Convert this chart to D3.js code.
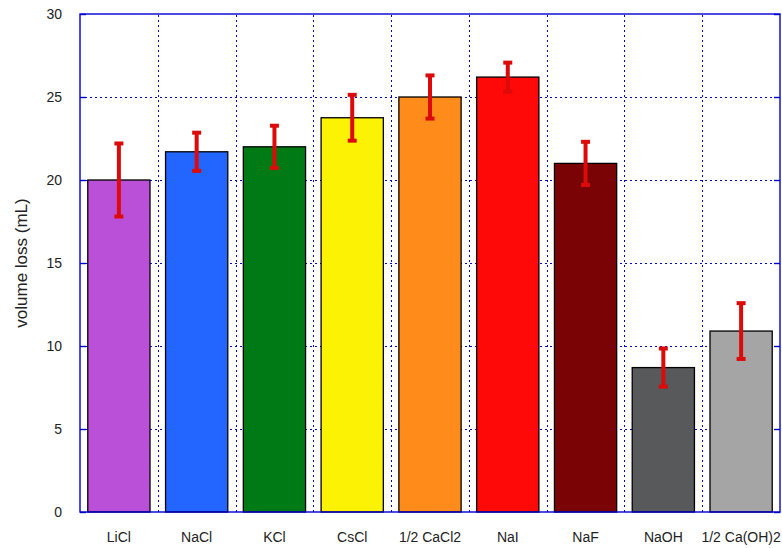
<!DOCTYPE html>
<html>
<head>
<meta charset="utf-8">
<script src="https://cdn.jsdelivr.net/npm/d3@7"></script>
<style>
  html, body { margin: 0; padding: 0; background: #fff; }
  svg { display: block; font-family: "Liberation Sans", Arial, sans-serif; }
</style>
</head>
<body>
<svg id="chart" width="782" height="548"></svg>
<script>
// Salts and their measured volume loss (mL) with uncertainty
const categories = ["LiCl", "NaCl", "KCl", "CsCl", "1/2 CaCl2", "NaI", "NaF", "NaOH", "1/2 Ca(OH)2"];
const values = [20.0, 21.7, 22.0, 23.75, 25.0, 26.2, 21.0, 8.7, 10.9];
const errors = [2.2, 1.15, 1.27, 1.38, 1.3, 0.87, 1.3, 1.15, 1.68];
const colors = ["#bb50d8", "#2266ff", "#007a14", "#fcf203", "#ff8c1a", "#ff0808", "#7a0305", "#58595b", "#a5a5a5"];
const yTicks = [0, 5, 10, 15, 20, 25, 30];

const svg = d3.select("#chart");
const margin = { left: 80, right: 2, top: 14, bottom: 36 };
const W = 782, H = 548;
const x0 = margin.left, x1 = W - margin.right, y0 = H - margin.bottom, y1 = margin.top;

const x = d3.scaleBand().domain(categories).range([x0, x1]).paddingInner(0.2).paddingOuter(0.1);
const xBand = d3.scaleBand().domain(categories).range([x0, x1]).padding(0);
const y = d3.scaleLinear().domain([0, 30]).range([y0, y1]);

const gridColor = "#0000d0";
const snap = v => Math.round(v) + 0.5;

// grid: horizontal lines at y ticks, vertical lines at category boundaries
const grid = svg.append("g").attr("shape-rendering", "crispEdges");
grid.selectAll("line.h").data(yTicks.slice(1, -1)).enter().append("line")
  .attr("x1", x0).attr("x2", x1)
  .attr("y1", d => snap(y(d))).attr("y2", d => snap(y(d)))
  .attr("stroke", gridColor).attr("stroke-width", 1.3).attr("stroke-dasharray", "2,3");
grid.selectAll("line.v").data(categories.slice(1)).enter().append("line")
  .attr("x1", d => snap(xBand(d))).attr("x2", d => snap(xBand(d)))
  .attr("y1", y0).attr("y2", y1)
  .attr("stroke", gridColor).attr("stroke-width", 1.3).attr("stroke-dasharray", "2,3");

// bars
svg.append("g").selectAll("rect").data(categories).enter().append("rect")
  .attr("x", d => x(d))
  .attr("width", x.bandwidth())
  .attr("y", (d, i) => y(values[i]))
  .attr("height", (d, i) => y(0) - y(values[i]))
  .attr("fill", (d, i) => colors[i])
  .attr("stroke", "#000").attr("stroke-width", 1.3);

// error bars
const errColor = "#dd0a0a";
const eb = svg.append("g").selectAll("g").data(categories).enter().append("g");
eb.append("line")
  .attr("x1", d => x(d) + x.bandwidth() / 2).attr("x2", d => x(d) + x.bandwidth() / 2)
  .attr("y1", (d, i) => y(values[i] + errors[i])).attr("y2", (d, i) => y(values[i] - errors[i]))
  .attr("stroke", errColor).attr("stroke-width", 4);
[1, -1].forEach(s => {
  eb.append("line")
    .attr("x1", d => x(d) + x.bandwidth() / 2 - 4.5).attr("x2", d => x(d) + x.bandwidth() / 2 + 4.5)
    .attr("y1", (d, i) => y(values[i] + s * errors[i])).attr("y2", (d, i) => y(values[i] + s * errors[i]))
    .attr("stroke", errColor).attr("stroke-width", 4);
});

// frame
svg.append("rect").attr("x", x0).attr("y", y1).attr("width", x1 - x0).attr("height", y0 - y1)
  .attr("fill", "none").attr("stroke", gridColor).attr("stroke-width", 1.4);

// y axis (ticks inward on both sides)
const yAxisL = d3.axisLeft(y).tickValues(yTicks).tickSizeInner(-6).tickSizeOuter(0).tickPadding(18);
const gL = svg.append("g").attr("transform", `translate(${x0},0)`).call(yAxisL);
gL.select(".domain").remove();
gL.selectAll(".tick line").attr("stroke", gridColor).attr("stroke-width", 1.4);
gL.selectAll(".tick text").attr("font-size", 14).attr("fill", "#222")
  .attr("font-family", "Liberation Sans, Arial, sans-serif");

const yAxisR = d3.axisRight(y).tickValues(yTicks).tickSizeInner(-6).tickSizeOuter(0).tickFormat("");
const gR = svg.append("g").attr("transform", `translate(${x1},0)`).call(yAxisR);
gR.select(".domain").remove();
gR.selectAll(".tick line").attr("stroke", gridColor).attr("stroke-width", 1.4);

// x axis labels
const xAxis = d3.axisBottom(x).tickSize(0).tickPadding(20);
const gX = svg.append("g").attr("transform", `translate(0,${y0})`).call(xAxis);
gX.select(".domain").remove();
gX.selectAll(".tick text").attr("font-size", 14).attr("fill", "#222")
  .attr("font-family", "Liberation Sans, Arial, sans-serif");

// y axis title
svg.append("text")
  .attr("transform", `translate(27,${(y0 + y1) / 2}) rotate(-90)`)
  .attr("text-anchor", "middle")
  .attr("font-size", 17).attr("fill", "#222")
  .text("volume loss (mL)");
</script>
</body>
</html>
